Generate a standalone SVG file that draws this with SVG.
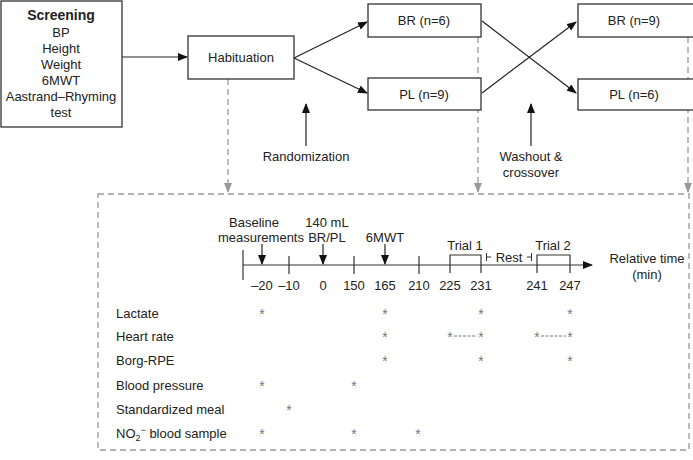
<svg xmlns="http://www.w3.org/2000/svg" width="693" height="460" viewBox="0 0 693 460">
<style>
text{font-family:"Liberation Sans",Arial,sans-serif;font-size:13px;fill:#222}
.c{text-anchor:middle}
.box{fill:#fff;stroke:#333;stroke-width:1.3}
.ln{stroke:#222;stroke-width:1.2;fill:none}
.ds{stroke:#999;stroke-width:1.3;stroke-dasharray:6,4;fill:none}
.ax{stroke:#333;stroke-width:1.2;fill:none}
.st{fill:#777;font-size:14px;text-anchor:middle}
.hd{stroke:#777;stroke-width:1;stroke-dasharray:3,1.5}
</style>
<defs>
<marker id="ah" markerWidth="10" markerHeight="8" refX="9" refY="4" orient="auto" markerUnits="userSpaceOnUse"><path d="M0,0L10,4L0,8z" fill="#111"/></marker>
<marker id="ag" markerWidth="10" markerHeight="8" refX="9" refY="4" orient="auto" markerUnits="userSpaceOnUse"><path d="M0,0L10,4L0,8z" fill="#999"/></marker>
</defs>
<g id="connectors">
<line class="ds" x1="228" y1="79" x2="228" y2="192" marker-end="url(#ag)"/>
<line class="ds" x1="478" y1="37" x2="478" y2="192" marker-end="url(#ag)"/>
<line class="ds" x1="688" y1="37" x2="688" y2="192" marker-end="url(#ag)"/>
<line class="ln" x1="122" y1="57" x2="187" y2="57" marker-end="url(#ah)"/>
<line class="ln" x1="294" y1="58" x2="367" y2="22" marker-end="url(#ah)"/>
<line class="ln" x1="294" y1="58" x2="367" y2="93" marker-end="url(#ah)"/>
<line class="ln" x1="482" y1="21" x2="576" y2="93" marker-end="url(#ah)"/>
<line class="ln" x1="482" y1="93" x2="576" y2="22" marker-end="url(#ah)"/>
<line class="ln" x1="306" y1="146" x2="306" y2="104" marker-end="url(#ah)"/>
<line class="ln" x1="531" y1="146" x2="531" y2="104" marker-end="url(#ah)"/>
</g>
<g id="screening">
<rect class="box" x="1" y="1" width="121" height="126" stroke-width="1.6"/>
<text class="c" x="61" y="20" style="font-weight:bold;font-size:14px">Screening</text>
<text class="c" x="61" y="37">BP</text>
<text class="c" x="61" y="53">Height</text>
<text class="c" x="61" y="69">Weight</text>
<text class="c" x="61" y="85">6MWT</text>
<text class="c" x="61" y="101">Aastrand–Rhyming</text>
<text class="c" x="61" y="117">test</text>
</g>
<g id="habituation">
<rect class="box" x="188" y="36" width="106" height="43"/>
<text class="c" x="241" y="62">Habituation</text>
</g>
<g id="br1">
<rect class="box" x="368" y="4" width="113" height="33"/>
<text class="c" x="424" y="25">BR (n=6)</text>
</g>
<g id="pl1">
<rect class="box" x="368" y="78" width="113" height="32"/>
<text class="c" x="424" y="99">PL (n=9)</text>
</g>
<g id="br2">
<rect class="box" x="578" y="4" width="118" height="33"/>
<text class="c" x="634" y="25">BR (n=9)</text>
</g>
<g id="pl2">
<rect class="box" x="578" y="79" width="118" height="31"/>
<text class="c" x="634" y="99">PL (n=6)</text>
</g>
<g id="randomization">
<text class="c" x="306" y="161">Randomization</text>
</g>
<g id="washout">
<text class="c" x="531" y="161">Washout &amp;</text>
<text class="c" x="531" y="177">crossover</text>
</g>
<g id="timeline-panel">
<rect class="ds" x="98" y="194" width="591" height="256"/>
<line class="ax" x1="243" y1="265" x2="592" y2="265" marker-end="url(#ah)"/>
<line class="ax" x1="243" y1="250" x2="243" y2="280"/>
<line class="ax" x1="289" y1="256" x2="289" y2="274"/>
<line class="ax" x1="354" y1="256" x2="354" y2="274"/>
<line class="ax" x1="419" y1="256" x2="419" y2="274"/>
<line class="ln" x1="262" y1="244" x2="262" y2="264" marker-end="url(#ah)"/>
<line class="ln" x1="323" y1="244" x2="323" y2="264" marker-end="url(#ah)"/>
<line class="ln" x1="385" y1="244" x2="385" y2="264" marker-end="url(#ah)"/>
<polyline class="ax" points="450,273 450,255 481,255 481,273"/>
<polyline class="ax" points="537,273 537,255 570,255 570,273"/>
<text class="c" x="254" y="227">Baseline</text>
<text class="c" x="261" y="242">measurements</text>
<text class="c" x="327" y="227">140 mL</text>
<text class="c" x="327" y="242">BR/PL</text>
<text class="c" x="385" y="242">6MWT</text>
<text class="c" x="465" y="250">Trial 1</text>
<text class="c" x="553" y="250">Trial 2</text>
<path d="M486.5,253V261M486.5,257H491M531.5,253V261M531.5,257H527" stroke="#333" stroke-width="1" fill="none"/>
<text class="c" x="509" y="262">Rest</text>
<text class="c" x="647" y="263">Relative time</text>
<text class="c" x="647" y="279">(min)</text>
<text class="c" x="262" y="290">–20</text>
<text class="c" x="289" y="290">–10</text>
<text class="c" x="323" y="290">0</text>
<text class="c" x="354" y="290">150</text>
<text class="c" x="385" y="290">165</text>
<text class="c" x="419" y="290">210</text>
<text class="c" x="450" y="290">225</text>
<text class="c" x="481" y="290">231</text>
<text class="c" x="537" y="290">241</text>
<text class="c" x="570" y="290">247</text>
<text x="116" y="318">Lactate</text>
<text x="116" y="341">Heart rate</text>
<text x="116" y="365">Borg-RPE</text>
<text x="116" y="390">Blood pressure</text>
<text x="116" y="414">Standardized meal</text>
<text x="116" y="438">NO<tspan font-size="9" dy="3">2</tspan><tspan font-size="9" dy="-8">−</tspan><tspan dy="5"> blood sample</tspan></text>
<text class="st" x="262" y="319">*</text>
<text class="st" x="385" y="319">*</text>
<text class="st" x="481" y="319">*</text>
<text class="st" x="570" y="319">*</text>
<text class="st" x="385" y="342">*</text>
<text class="st" x="450" y="342">*</text>
<text class="st" x="481" y="342">*</text>
<text class="st" x="537" y="342">*</text>
<text class="st" x="570" y="342">*</text>
<line class="hd" x1="454" y1="336" x2="477" y2="336"/>
<line class="hd" x1="541" y1="336" x2="566" y2="336"/>
<text class="st" x="385" y="366">*</text>
<text class="st" x="481" y="366">*</text>
<text class="st" x="570" y="366">*</text>
<text class="st" x="262" y="391">*</text>
<text class="st" x="354" y="391">*</text>
<text class="st" x="289" y="415">*</text>
<text class="st" x="262" y="439">*</text>
<text class="st" x="354" y="439">*</text>
<text class="st" x="418" y="439">*</text>
</g>
</svg>
